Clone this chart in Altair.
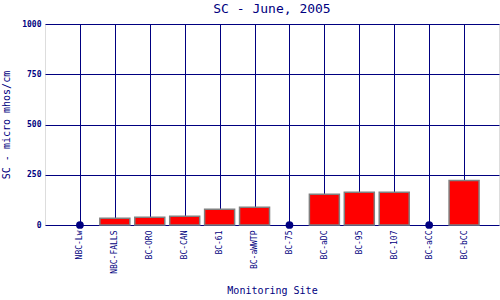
import altair as alt
import pandas as pd

sites = ["NBC-Lw", "NBC-FALLS", "BC-ORO", "BC-CAN", "BC-61", "BC-aWWTP",
         "BC-75", "BC-aDC", "BC-95", "BC-107", "BC-aCC", "BC-bCC"]
values = [None, 33, 38, 43, 78, 88, None, 153, 163, 163, None, 222]

df = pd.DataFrame({"site": sites, "sc": values})
df["missing"] = df["sc"].isna()
df["zero"] = 0

NAVY = "#000080"
FONT = "DejaVu Sans Mono"

x = alt.X("site:N", sort=sites, scale=alt.Scale(type="point", padding=1),
          axis=alt.Axis(title="Monitoring Site", labelAngle=-90, labelColor=NAVY,
                        labelFont=FONT, labelFontSize=8, labelPadding=5,
                        titleColor=NAVY, titleFont=FONT, titleFontSize=10,
                        titleFontWeight="normal", titlePadding=12,
                        grid=True, gridColor=NAVY, gridOpacity=1, gridWidth=1,
                        domain=False, ticks=False))

y_axis = alt.Axis(title="SC - micro mhos/cm", values=[0, 250, 500, 750, 1000], format="d",
                  labelColor=NAVY, labelFont=FONT, labelFontSize=8, labelFontWeight="bold",
                  labelPadding=4, titleColor=NAVY, titleFont=FONT, titleFontSize=10,
                  titleFontWeight="normal", titlePadding=10,
                  grid=True, gridColor=NAVY, gridOpacity=1, gridWidth=1,
                  domain=False, ticks=False)

bars = alt.Chart(df).transform_filter("datum.sc != null").mark_bar(
    size=30, color="#ff0000", stroke="#808080", strokeWidth=1.5
).encode(
    x=x,
    y=alt.Y("sc:Q", scale=alt.Scale(domain=[0, 1000], nice=False), axis=y_axis),
)

dots = alt.Chart(df).transform_filter("datum.missing").mark_circle(
    size=60, color=NAVY, opacity=1
).encode(
    x=alt.X("site:N", sort=sites),
    y=alt.Y("zero:Q"),
)

chart = alt.layer(bars, dots).properties(
    width=454, height=201,
    title=alt.TitleParams("SC - June, 2005", font=FONT, fontSize=13, color=NAVY,
                          fontWeight="normal", offset=4),
    autosize=alt.AutoSizeParams(type="none"),
    padding={"left": 45, "top": 24, "right": 1, "bottom": 75},
).configure_view(stroke=NAVY, strokeWidth=1.5).configure(background="white")

chart.save("out.html", embed_options={"renderer": "svg", "actions": False})
